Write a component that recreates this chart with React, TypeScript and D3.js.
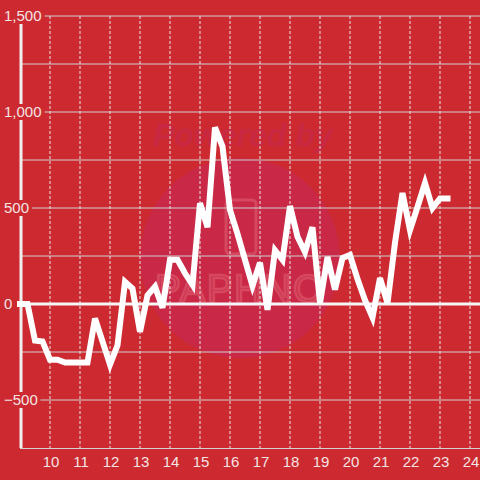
import React from "react";
import * as d3 from "d3";

const xValues = [
  9, 9.25, 9.5, 9.75, 10, 10.25, 10.5, 10.75, 11, 11.25, 11.5, 11.75,
  12, 12.25, 12.5, 12.75, 13, 13.25, 13.5, 13.75, 14, 14.25, 14.5, 14.75,
  15, 15.25, 15.5, 15.75, 16, 16.25, 16.5, 16.75, 17, 17.25, 17.5, 17.75,
  18, 18.25, 18.5, 18.75, 19, 19.25, 19.5, 19.75, 20, 20.25, 20.5, 20.75,
  21, 21.25, 21.5, 21.75, 22, 22.25, 22.5, 22.75, 23, 23.25,
];
const yValues = [
  0, 0, -190, -195, -290, -290, -305, -305, -305, -305, -75, -195,
  -315, -215, 115, 80, -145, 45, 90, -20, 230, 230, 160, 100,
  525, 400, 920, 820, 490, 365, 230, 95, 215, -30, 280, 230,
  510, 350, 270, 400, 5, 245, 75, 240, 255, 130, 20, -70,
  135, 5, 320, 578, 385, 505, 630, 500, 550, 550,
];
const xTicks = [10, 11, 12, 13, 14, 15, 16, 17, 18, 19, 20, 21, 22, 23, 24];
const yGrid = [-500, -250, 0, 250, 500, 750, 1000, 1250, 1500];
const yLabelTicks = [-500, 0, 500, 1000, 1500];

const W = 480;
const H = 480;
const BG = "#cc2a30";
const LABEL = "#f3e4e4";
const FONT = "'Liberation Sans', Arial, sans-serif";

function textWidth(s: string, size: number) {
  let w = 0;
  for (const c of s) {
    if (c === ",") w += 0.278;
    else if (c === "-") w += 0.333;
    else w += 0.556;
  }
  return w * size;
}

export default function App() {
  const x = d3.scaleLinear().domain([9, 24 + 1 / 3]).range([20, 480]);
  const y = d3.scaleLinear().domain([-750, 1500]).range([448, 16]);
  const pts = xValues.map((v, i) => [v, yValues[i]] as [number, number]);
  const line = d3
    .line<[number, number]>()
    .x((d) => x(d[0]))
    .y((d) => y(d[1]));
  const fmt = d3.format(",");

  return (
    <svg
      width={W}
      height={H}
      style={{ position: "absolute", left: 0, top: 0, display: "block" }}
    >
      <rect x={0} y={0} width={W} height={H} fill={BG} />
      {/* watermark */}
      <circle cx={240} cy={258} r={100} fill="#c92846" />
      <text
        x={243}
        y={146}
        textAnchor="middle"
        fontFamily={FONT}
        fontSize={32}
        fontWeight="bold"
        fontStyle="italic"
        fill="#c92842"
      >
        Powered by
      </text>
      <rect
        x={226}
        y={200}
        width={30}
        height={54}
        rx={4}
        fill="none"
        stroke="#d6485f"
        strokeWidth={3}
      />
      <text
        x={240}
        y={302}
        textAnchor="middle"
        fontFamily={FONT}
        fontSize={38}
        fill="none"
        stroke="#d6485f"
        strokeWidth={2.5}
        letterSpacing={2}
      >
        PAPHNO
      </text>
      {/* horizontal grid */}
      {yGrid
        .filter((v) => v !== 0)
        .map((v) => (
          <line
            key={"h" + v}
            x1={22}
            x2={W}
            y1={y(v)}
            y2={y(v)}
            stroke="#cfcfcf"
            strokeWidth={1}
          />
        ))}
      {/* vertical dotted grid */}
      {xTicks.map((v) => (
        <line
          key={"v" + v}
          x1={x(v)}
          x2={x(v)}
          y1={y(1500)}
          y2={y(-750)}
          stroke="#e6e6e6"
          strokeWidth={1}
          strokeDasharray="3,2"
        />
      ))}
      {/* zero line */}
      <line x1={20} x2={W} y1={y(0)} y2={y(0)} stroke="#f6f6f6" strokeWidth={3} />
      {/* axes */}
      <line x1={20} x2={W} y1={y(-750) + 0.5} y2={y(-750) + 0.5} stroke="#d0d0d0" strokeWidth={1} />
      <line x1={21} x2={21} y1={16} y2={y(-750)} stroke="#efefef" strokeWidth={3} />
      {/* y labels with background */}
      {yLabelTicks.map((v) => {
        const s = fmt(v);
        const w = textWidth(s, 15);
        return (
          <g key={"yl" + v}>
            <rect x={0} y={y(v) - 8} width={w + 7} height={16} fill={BG} />
            <text
              x={4}
              y={y(v)}
              dy="0.35em"
              fontFamily={FONT}
              fontSize={15}
              fill={LABEL}
            >
              {s}
            </text>
          </g>
        );
      })}
      {/* x labels */}
      {xTicks.map((v) => (
        <text
          key={"xl" + v}
          x={x(v) + 1}
          y={467}
          textAnchor="middle"
          fontFamily={FONT}
          fontSize={15}
          fill={LABEL}
        >
          {v}
        </text>
      ))}
      {/* series */}
      <path
        d={line(pts) || ""}
        fill="none"
        stroke="#ffffff"
        strokeWidth={6}
        strokeLinejoin="miter"
        strokeLinecap="square"
      />
    </svg>
  );
}
